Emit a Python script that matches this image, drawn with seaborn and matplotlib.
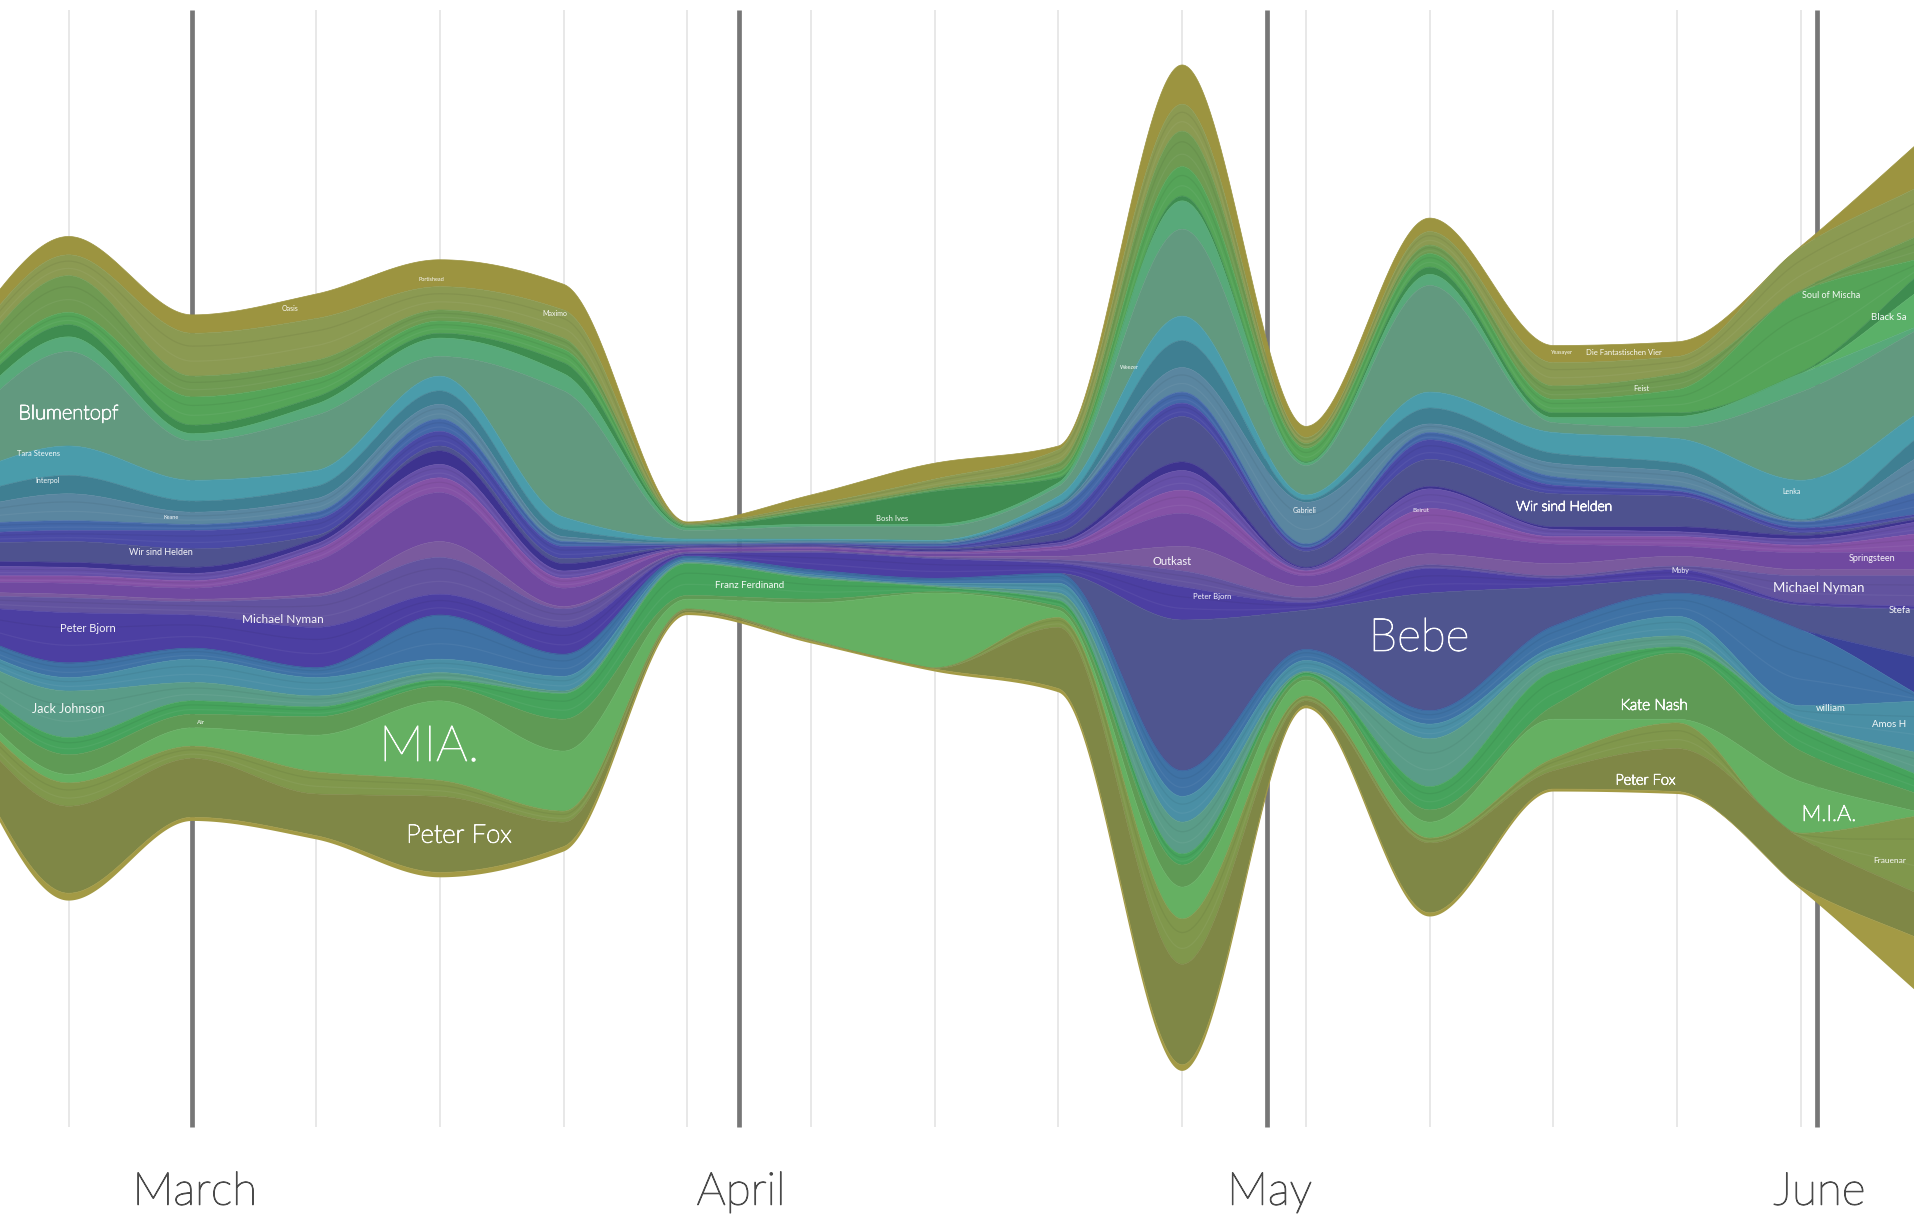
"""
Streamgraph of weekly artist plays, March to June.
Layer values are read off the picture, one value per week, listed top layer first.
"""

import numpy as np
import pandas as pd
import matplotlib.pyplot as plt
import matplotlib.patheffects as pe
import seaborn as sns

# ------------------------------------------------------------------
# Data: weeks, stream floor, thickness of each layer per week
# ------------------------------------------------------------------
days = np.arange(-7, 106, 7)
floor = [-111, -255, -190, -205, -236, -215, -22, -45, -68, -85, -394, -98, -268, -166, -168, -246, -335]

gold_top     = [10, 15, 15, 20, 22, 21, 1, 8, 13, 3, 32, 9, 11, 14, 12, 1, 38]
olive_top    = [15, 17, 35, 34, 19, 23, 1, 3, 7, 11, 22, 5, 11, 19, 14, 35, 40]
moss         = [16, 30, 17, 15, 9, 9, 1, 2, 2, 7, 29, 4, 7, 11, 13, 1, 20]
green_a      = [8, 10, 23, 15, 10, 11, 1, 1, 1, 5, 24, 11, 11, 11, 19, 66, 10]
dark_line    = [8, 10, 7, 6, 4, 9, 1, 10, 27, 4, 4, 1, 6, 4, 3, 1, 14]
wedge_green  = [0, 0, 0, 0, 0, 0, 0, 0, 0, 0, 0, 0, 0, 0, 0, 0, 30]
sage_light   = [10, 12, 6, 9, 15, 14, 2, 2, 2, 3, 23, 2, 9, 4, 9, 15, 2]
blumentopf   = [35, 77, 32, 45, 16, 103, 7, 10, 11, 8, 71, 24, 87, 8, 9, 72, 68]
cyan         = [16, 24, 17, 13, 12, 10, 2, 1, 1, 6, 20, 4, 13, 17, 20, 32, 19]
dark_teal    = [10, 15, 9, 10, 11, 6, 1, 1, 1, 2, 22, 2, 13, 8, 7, 1, 17]
steel        = [10, 22, 10, 11, 12, 4, 1, 1, 1, 2, 20, 34, 7, 11, 12, 1, 30]
blue_mid     = [8, 8, 5, 6, 10, 4, 1, 1, 2, 10, 9, 3, 6, 7, 4, 5, 19]
indigo_a     = [8, 9, 15, 13, 12, 10, 1, 1, 2, 10, 11, 3, 16, 7, 4, 4, 2]
slate_helden = [14, 17, 15, 3, 4, 4, 0.5, 0.5, 1, 6, 37, 13, 22, 27, 25, 2, 2]
dark_indigo  = [4, 4, 5, 4, 11, 6, 0.5, 0.5, 1, 2, 7, 1, 2, 2, 4, 3, 2]
violet       = [8, 7, 6, 5, 11, 6, 1, 1, 1, 3, 16, 2, 16, 6, 4, 5, 10]
orchid       = [5, 6, 6, 9, 12, 8, 0.5, 0.5, 1, 3, 19, 4, 18, 6, 8, 6, 15]
purple       = [8, 9, 9, 27, 40, 15, 2, 2, 2, 5, 27, 9, 19, 16, 8, 14, 15]
muted        = [3, 3, 2, 2, 13, 2, 0.5, 0.5, 1, 3, 20, 9, 9, 10, 8, 5, 5]
nyman        = [8, 12, 11, 25, 30, 15, 1, 1, 1, 3, 13, 4, 3, 2, 3, 22, 25]
indigo_brst  = [16, 41, 27, 33, 17, 22, 2, 14, 16, 8, 27, 6, 20, 7, 8, 2, 3]
bebe         = [0, 0, 0, 0, 0, 0, 0, 0, 0, 0, 123, 32, 96, 32, 11, 20, 40]
wedge_indigo = [0, 0, 0, 0, 0, 0, 0, 0, 0, 0, 0, 0, 0, 0, 0, 0, 32]
blue_low     = [10, 12, 9, 8, 36, 18, 3, 4, 4, 8, 21, 9, 11, 17, 19, 62, 2]
teal_low     = [8, 11, 19, 15, 11, 12, 2, 2, 2, 8, 21, 9, 12, 7, 16, 14, 44]
sea          = [12, 38, 15, 9, 6, 2, 1, 1, 1, 6, 26, 1, 39, 13, 9, 1, 19]
green_low    = [6, 14, 11, 8, 5, 21, 26, 17, 4, 5, 9, 3, 19, 28, 5, 22, 15]
kate         = [10, 16, 11, 15, 12, 26, 3, 3, 1, 3, 18, 3, 10, 11, 54, 25, 14]
mia          = [6, 7, 15, 30, 65, 49, 8, 30, 61, 6, 26, 13, 13, 32, 3, 42, 1]
olive_low    = [12, 19, 10, 18, 13, 9, 1, 1, 0.5, 8, 37, 4, 4, 10, 21, 4, 67]
peter_fox    = [15, 71, 48, 34, 62, 20, 2, 0.5, 0.5, 50, 82, 4, 57, 15, 35, 40, 36]
tan_edge     = [2, 6, 3, 3, 4, 4, 2, 1.5, 2, 3, 5, 2, 3, 2, 2, 2, 47]

layers = [gold_top, olive_top, moss, green_a, dark_line, wedge_green, sage_light, blumentopf,
          cyan, dark_teal, steel, blue_mid, indigo_a, slate_helden, dark_indigo, violet,
          orchid, purple, muted, nyman, indigo_brst, bebe, wedge_indigo, blue_low,
          teal_low, sea, green_low, kate, mia, olive_low, peter_fox, tan_edge]

layer_colors = sns.color_palette([
    '#9c9440', '#8b9a52', '#6f9a52', '#55a458', '#3f8c50', '#5ab068', '#58a97a', '#62997f',
    '#4a9cab', '#3f7f92', '#5a86a0', '#4468a8', '#4a4aa5', '#4e528f', '#3d338f', '#6550a8',
    '#8452a6', '#7049a0', '#7a5a9e', '#62539f', '#4c3fa2', '#4f558f', '#3a4298', '#3f72a5',
    '#4a8fa5', '#5a9c88', '#46a35c', '#5f9a55', '#65b062', '#80974c', '#7f8746', '#a39a45'])

# layers that in the picture are many small artists, not one big one
banded = [1, 2, 3, 10, 11, 12, 15, 16, 19, 20, 23, 24, 25, 26, 29]

week_days = [0, 14, 21, 28, 35, 42, 49, 56, 63, 70, 77, 84, 91, 98]
month_days = [7, 37.9, 67.8, 98.9]
month_names = ['March', 'April', 'May', 'June']


def smooth(values, grid):
    # monotone cubic through the weekly values
    v = np.asarray(values, dtype=float)
    h = days[1] - days[0]
    d = np.diff(v) / h
    m = np.zeros(len(v))
    m[0], m[-1] = d[0], d[-1]
    for i in range(1, len(v) - 1):
        if d[i - 1] * d[i] > 0:
            m[i] = 2 * d[i - 1] * d[i] / (d[i - 1] + d[i])
    i = np.clip(((grid - days[0]) // h).astype(int), 0, len(v) - 2)
    t = (grid - days[i]) / h
    return ((2 * t**3 - 3 * t**2 + 1) * v[i] + (t**3 - 2 * t**2 + t) * h * m[i]
            + (-2 * t**3 + 3 * t**2) * v[i + 1] + (t**3 - t**2) * h * m[i + 1])


# ------------------------------------------------------------------
# Stack the layers from the floor upward
# ------------------------------------------------------------------
sns.set_theme(style='white')
plt.rcParams['font.family'] = ['Lato', 'DejaVu Sans']

fig = plt.figure(figsize=(19.2, 12.21), dpi=100)
ax = fig.add_axes([0, 0, 1914 / 1920, 1])
ax.axis('off')

# week and month rules sit behind the stream
ax.vlines(week_days, -440, 472, color='#e6e6e6', lw=1.3, zorder=1)
ax.vlines(month_days, -440, 472, color='#777777', lw=3.4, zorder=2)

grid = np.linspace(days[0], days[-1], 1121)
running = np.asarray(floor, dtype=float)
lower = smooth(running, grid)
edges = []
for k, thickness in reversed(list(enumerate(layers))):
    running = running + np.asarray(thickness)
    upper = np.maximum(smooth(running, grid), lower)
    ax.fill_between(grid, lower, upper, color=layer_colors[k], lw=0, zorder=3)
    edges.append(pd.DataFrame({'day': grid, 'upper': upper, 'layer': k}))
    if k in banded:
        for part, tone in zip((0.35, 0.7), ('white', 'black')):
            ax.plot(grid, lower + part * (upper - lower), color=tone, alpha=0.05, lw=0.9, zorder=5)
    lower = upper

edges = pd.concat(edges, ignore_index=True)
sns.lineplot(data=edges, x='day', y='upper', hue='layer', palette=list(layer_colors),
             estimator=None, sort=False, lw=0.5, legend=False, ax=ax, zorder=4)
ax.set_xlim(-3.88, 104.4)
ax.set_ylim(-516.5, 480)
ax.axis('off')

# ------------------------------------------------------------------
# Artist names on their layers
# ------------------------------------------------------------------
names = [
    ('Blumentopf', 0.0, 142, 14.5), ('Tara Stevens', -1.7, 110, 5.5), ('Interpol', -1.2, 88, 5),
    ('Jack Johnson', 0.0, -99, 9), ('Peter Bjorn', 1.1, -33, 8), ('Michael Nyman', 12.1, -26, 8.5),
    ('Wir sind Helden', 5.2, 29, 6.5), ('MIA.', 20.4, -130, 36), ('Peter Fox', 22.1, -202, 18.5),
    ('Franz Ferdinand', 38.5, 2, 7), ('Bosh Ives', 46.6, 57, 5.5), ('Outkast', 62.4, 22, 8),
    ('Peter Bjorn', 64.7, -7, 5.5), ('Gabrieli', 69.9, 63, 5), ('Bebe', 76.4, -41, 33),
    ('Wir sind Helden', 84.6, 66, 10), ('Kate Nash', 89.7, -96, 11), ('Peter Fox', 89.2, -157, 10.5),
    ('Michael Nyman', 99.0, 0, 9.5), ('M.I.A.', 99.6, -185, 16), ('Die Fantastischen Vier', 88.0, 192, 5.5),
    ('Soul of Mischa', 99.7, 239, 6.5), ('Black Sa', 103.0, 221, 7), ('william', 99.7, -98, 7),
    ('Amos H', 103.0, -111, 7), ('Frauenar', 103.0, -222, 6), ('Stefa', 103.6, -18, 7),
    ('Lenka', 97.5, 79, 5), ('Springsteen', 102.0, 24, 6.5), ('Beirut', 76.5, 63, 4.5),
    ('Keane', 5.8, 58, 4), ('Maximo', 27.5, 224, 5), ('Oasis', 12.5, 228, 5), ('Weezer', 60.0, 180, 4),
    ('Portishead', 20.5, 252, 4), ('Air', 7.5, -110, 4.5), ('Yeasayer', 84.5, 192, 4),
    ('Feist', 89.0, 163, 5.5), ('Moby', 91.2, 14, 5),
]
for text, day, y, size in names:
    label = ax.text(day, y, text, color='white', fontsize=size, fontweight='light' if size >= 10 else 'normal',
                    ha='center', va='center', alpha=0.95, zorder=6, clip_on=True)
    if size >= 10:
        label.set_path_effects([pe.withStroke(linewidth=0.7, foreground='white')])

for day, name in zip(month_days, month_names):
    label = ax.text(day + 0.15, -493, name, color='#4a4a4a', fontsize=33, fontweight='light',
                    ha='center', va='center', zorder=6)
    label.set_path_effects([pe.withStroke(linewidth=0.8, foreground='#4a4a4a')])

plt.savefig('out.png', dpi=100)
